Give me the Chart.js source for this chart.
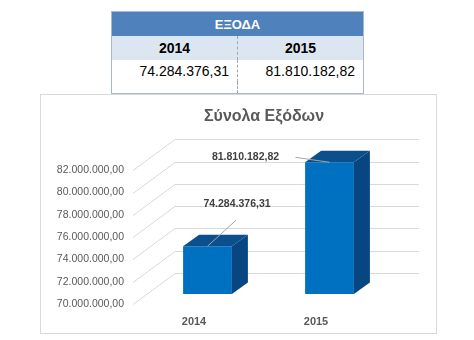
<!DOCTYPE html>
<html>
<head>
<meta charset="utf-8">
<script src="https://cdn.jsdelivr.net/npm/chart.js@4.4.0/dist/chart.umd.min.js"></script>
<style>
  body { margin: 0; width: 474px; height: 340px; background: #fff; overflow: hidden;
         font-family: 'Liberation Sans', Arial, sans-serif; }
  #expenses { position: absolute; left: 111px; top: 11px; width: 253px; border-collapse: collapse;
              border: 1px solid #A9B8CC; table-layout: fixed; }
  #expenses td, #expenses th { padding: 0; }
  #expenses .head th { height: 24px; background: #4F81BD; color: #fff; font-size: 13px; font-weight: bold;
                       text-align: center; border: none; }
  #expenses .years td { height: 24px; background: #DCE6F1; font-size: 14px; font-weight: bold; text-align: center; }
  #expenses .vals td { height: 22px; font-size: 14px; text-align: right; padding-right: 8px; }
  #expenses .blank td { height: 11px; }
  #expenses td.first { border-right: 1px dashed #A6A6A6; }
  #frame { position: absolute; left: 40px; top: 94px; width: 397px; height: 240px;
           box-sizing: border-box; border: 1px solid #D9D9D9; }
  #chart { position: absolute; left: 0; top: 0; }
</style>
</head>
<body>
<table id="expenses">
  <tr class="head"><th colspan="2">ΕΞΟΔΑ</th></tr>
  <tr class="years"><td class="first"></td><td></td></tr>
  <tr class="vals"><td class="first"></td><td></td></tr>
  <tr class="blank"><td class="first"></td><td></td></tr>
</table>
<div id="frame"></div>
<canvas id="chart" width="474" height="340"></canvas>
<script>
const years = ['2014', '2015'];
const expenses = [74284376.31, 81810182.82];
const axisMin = 70000000;
const axisMax = 82000000;
const axisStep = 2000000;

// 82000000 -> "82.000.000,00"
function fmt(v) {
  const parts = v.toFixed(2).split('.');
  return parts[0].replace(/\B(?=(\d{3})+(?!\d))/g, '.') + ',' + parts[1];
}

// fill the table from the same arrays
const yearCells = document.querySelectorAll('#expenses .years td');
const valCells = document.querySelectorAll('#expenses .vals td');
years.forEach((y, i) => {
  yearCells[i].textContent = y;
  valCells[i].textContent = fmt(expenses[i]);
});

// fake 3d: back wall offset, bar plane offset, bar depth
const WALL = { x: 42, y: -31 };
const SHIFT = { x: 13.5, y: -10 };
const DEPTH = { x: 16, y: -11.5 };
const FRONT = '#0070C0', TOP = '#0B508D', SIDE = '#074680';
// label centre and leader start, relative to the front top edge of each bar
const labelOffsets = [
  { tx: 29.5, ty: -42, lx: 28.5, ly: -26 },
  { tx: -84, ty: -5, lx: -34, ly: -5 }
];
const FONT = '"Liberation Sans", Arial, sans-serif';

function poly(ctx, pts) {
  ctx.beginPath();
  ctx.moveTo(pts[0][0], pts[0][1]);
  for (let i = 1; i < pts.length; i++) ctx.lineTo(pts[i][0], pts[i][1]);
  ctx.closePath();
  ctx.fill();
}

const box3d = {
  id: 'box3d',
  afterLayout(chart) {
    // title sits a little right of the plot centre
    chart.titleBlock.left += 9;
    chart.titleBlock.right += 9;
  },
  beforeDatasetsDraw(chart) {
    const { ctx, chartArea: a, scales: { y } } = chart;
    ctx.save();
    ctx.strokeStyle = '#D9D9D9';
    ctx.lineWidth = 1;
    y.ticks.forEach(t => {
      const py = Math.round(y.getPixelForValue(t.value)) + 0.5;
      ctx.beginPath();
      ctx.moveTo(a.left, py);
      ctx.lineTo(a.left + WALL.x, py + WALL.y);
      ctx.lineTo(a.right + WALL.x, py + WALL.y);
      ctx.stroke();
    });
    ctx.restore();
    ctx.save();
    ctx.translate(SHIFT.x, SHIFT.y);
  },
  afterDatasetsDraw(chart) {
    const ctx = chart.ctx;
    const bars = chart.getDatasetMeta(0).data;
    bars.forEach(bar => {
      const l = bar.x - bar.width / 2, r = bar.x + bar.width / 2;
      ctx.fillStyle = TOP;
      poly(ctx, [[l, bar.y], [r, bar.y], [r + DEPTH.x, bar.y + DEPTH.y], [l + DEPTH.x, bar.y + DEPTH.y]]);
      ctx.fillStyle = SIDE;
      poly(ctx, [[r, bar.y], [r + DEPTH.x, bar.y + DEPTH.y], [r + DEPTH.x, bar.base + DEPTH.y], [r, bar.base]]);
    });
    ctx.restore();

    // value labels with leader lines
    ctx.save();
    ctx.font = 'bold 10.5px ' + FONT;
    ctx.fillStyle = '#404040';
    ctx.textAlign = 'center';
    ctx.textBaseline = 'middle';
    ctx.strokeStyle = '#A6A6A6';
    ctx.lineWidth = 1;
    bars.forEach((bar, i) => {
      const o = labelOffsets[i];
      const bx = bar.x + SHIFT.x, by = bar.y + SHIFT.y;
      ctx.beginPath();
      ctx.moveTo(bx + o.lx, by + o.ly);
      ctx.lineTo(bx, by);
      ctx.stroke();
      ctx.fillText(fmt(expenses[i]), bx + o.tx, by + o.ty);
    });
    ctx.restore();
  }
};

new Chart(document.getElementById('chart'), {
  type: 'bar',
  data: {
    labels: years,
    datasets: [{
      data: expenses,
      base: axisMin,
      backgroundColor: FRONT,
      barPercentage: 0.4,
      categoryPercentage: 1,
      clip: false
    }]
  },
  options: {
    responsive: false,
    animation: false,
    layout: { padding: { left: 0, right: 97, top: 0, bottom: 0 } },
    plugins: {
      legend: { display: false },
      tooltip: { enabled: false },
      title: {
        display: true,
        fullSize: false,
        text: 'Σύνολα Εξόδων',
        color: '#595959',
        font: { family: FONT, size: 16, weight: 700 },
        padding: { top: 107, bottom: 44 }
      }
    },
    scales: {
      x: {
        grid: { display: false, drawTicks: false },
        border: { display: false },
        ticks: {
          color: '#595959',
          padding: 11,
          font: { family: FONT, size: 11, weight: 'bold' }
        },
        afterFit(scale) { scale.height = 36; }
      },
      y: {
        min: axisMin,
        max: axisMax,
        grid: { display: false, drawTicks: false },
        border: { display: false },
        ticks: {
          stepSize: axisStep,
          color: '#595959',
          padding: 9,
          font: { family: FONT, size: 10.5 },
          callback: v => fmt(v)
        },
        afterFit(scale) { scale.width = 133; }
      }
    }
  },
  plugins: [box3d]
});
</script>
</body>
</html>
